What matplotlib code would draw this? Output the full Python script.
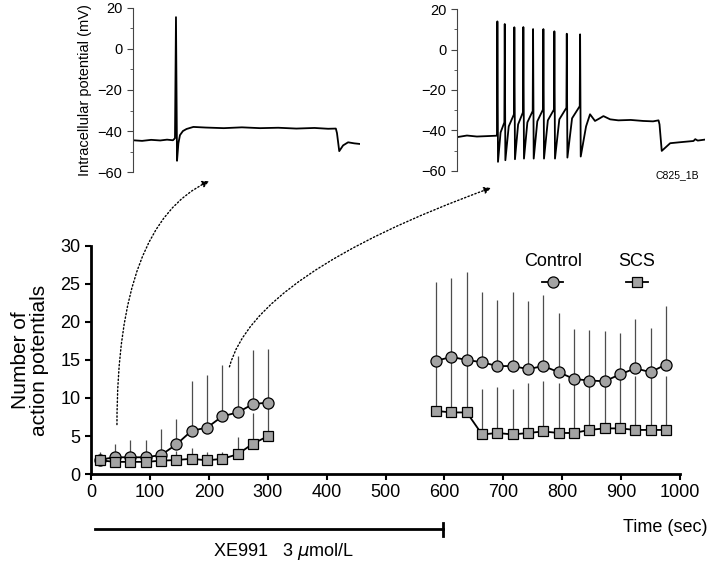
import matplotlib.pyplot as plt
from matplotlib.transforms import blended_transform_factory

plt.rcParams['font.family'] = ['Liberation Sans', 'DejaVu Sans']

# main plot data (sec, number of APs), error bars are upper only
time_a = [15, 41, 67, 93, 119, 145, 171, 197, 223, 249, 275, 301]
control_a = [1.9, 2.2, 2.2, 2.2, 2.5, 3.9, 5.7, 6.1, 7.6, 8.1, 9.2, 9.4]
control_a_err = [1.0, 1.8, 2.3, 2.3, 3.4, 3.3, 6.6, 6.9, 6.8, 7.4, 7.1, 7.1]
scs_a = [1.8, 1.6, 1.6, 1.6, 1.75, 1.85, 2.0, 1.8, 2.0, 2.6, 4.0, 5.0]
scs_a_err = [1.0, 1.0, 1.0, 1.0, 1.05, 1.15, 1.4, 1.1, 0.9, 2.3, 4.0, 4.0]

time_b = [586, 612, 638, 664, 690, 716, 742, 768, 794, 820, 846, 872, 898, 924, 950, 976]
control_b = [14.9, 15.4, 15.0, 14.7, 14.2, 14.2, 13.8, 14.2, 13.4, 12.5, 12.3, 12.2, 13.1, 13.9, 13.4, 14.4]
control_b_err = [10.4, 10.4, 11.6, 9.2, 8.7, 9.7, 9.0, 9.3, 7.8, 6.6, 6.6, 6.6, 5.5, 6.5, 5.8, 7.7]
scs_b = [8.3, 8.1, 8.1, 5.2, 5.4, 5.2, 5.4, 5.6, 5.4, 5.4, 5.8, 6.0, 6.0, 5.8, 5.8, 5.8]
scs_b_err = [7.2, 7.4, 7.4, 6.0, 6.0, 6.0, 6.6, 6.6, 6.6, 7.1, 6.9, 6.7, 6.9, 7.1, 7.1, 7.1]

xticks = [0, 100, 200, 300, 400, 500, 600, 700, 800, 900, 1000]
yticks = [0, 5, 10, 15, 20, 25, 30]

# inset traces (arbitrary time units 0-1000, mV)
left_t = [0, 40, 80, 120, 150, 176, 185, 189.4, 194, 200, 207, 220, 236, 266, 320, 400,
          480, 560, 640, 720, 800, 860, 894, 899, 909, 926, 948, 975, 1000]
left_v = [-44.5, -44.8, -44.3, -44.6, -44.2, -44.5, -43.5, 15.5, -54.5, -46, -42, -40,
          -39, -38, -38.3, -38.6, -38.2, -38.6, -38.4, -38.8, -38.5, -38.9, -38.8, -41,
          -49.8, -47, -45.5, -46, -46.3]

spike_t = [162.6, 192.3, 231, 267.3, 306.5, 348, 392.3, 442.3, 496]
spike_peak = [13.9, 12.6, 11.0, 11.1, 10.1, 10.1, 9.0, 7.8, 7.5]
spike_trough = [-55.5, -54.7, -54.2, -53.9, -53.9, -53.9, -53.9, -53.4, -52.9]
spike_pre = [-42.5, -36, -32, -31, -30.4, -29.6, -29.6, -28.8, -28]
ramp_mid = [-41, -38, -37, -36, -35.5, -35, -34.5, -34]

right_pre_t = [0, 40, 80, 120, 158]
right_pre_v = [-43.3, -42.5, -43, -42.8, -42.6]
right_post_t = [520, 536, 556, 575, 590, 617, 650, 700, 750, 790, 812, 816, 825, 859,
                900, 953, 960, 970, 1000]
right_post_v = [-38, -32, -35.3, -34, -32.9, -34.5, -35, -34.8, -35.3, -35.5, -35,
                -37, -50.1, -46.3, -45.8, -45.2, -44.3, -45, -44.5]

right_t = list(right_pre_t)
right_v = list(right_pre_v)
for i in range(len(spike_t)):
    right_t += [spike_t[i] - 1.5, spike_t[i], spike_t[i] + 2.5]
    right_v += [spike_pre[i], spike_peak[i], spike_trough[i]]
    if i < len(ramp_mid):
        right_t.append(spike_t[i] + 2.5 + 0.35 * (spike_t[i + 1] - spike_t[i]))
        right_v.append(ramp_mid[i])
right_t += right_post_t
right_v += right_post_v

fig = plt.figure(figsize=(7.09, 5.66), dpi=100)
ax = fig.add_axes([0.1284, 0.1625, 0.8307, 0.403])

for t, y, e in [(time_a, control_a, control_a_err), (time_b, control_b, control_b_err),
                (time_a, scs_a, scs_a_err), (time_b, scs_b, scs_b_err)]:
    ax.errorbar(t, y, yerr=[[0] * len(e), e], fmt='none', ecolor='#4d4d4d',
                elinewidth=0.9, capsize=0, zorder=1)

for t, y in [(time_a, control_a), (time_b, control_b)]:
    ax.plot(t, y, '-o', color='black', lw=1.3, mfc='#a3a3a3', mec='black',
            ms=8, mew=0.9, zorder=3)
for t, y in [(time_a, scs_a), (time_b, scs_b)]:
    ax.plot(t, y, '-s', color='black', lw=1.3, mfc='#a3a3a3', mec='black',
            ms=7.5, mew=0.9, zorder=4)

ax.set_xlim(0, 1000)
ax.set_ylim(0, 30)
ax.set_xticks(xticks)
ax.set_yticks(yticks)
ax.tick_params(labelsize=13, direction='out', length=4, width=1.5)
for s in ['top', 'right']:
    ax.spines[s].set_visible(False)
for s in ['left', 'bottom']:
    ax.spines[s].set_linewidth(2)
ax.set_ylabel('Number of\naction potentials', fontsize=15, labelpad=8, linespacing=1.0)

# legend drawn by hand, label above marker
for lx, lab, mk, ms in [(0.784, 'Control', 'o', 8), (0.927, 'SCS', 's', 7.5)]:
    ax.text(lx, 0.93, lab, transform=ax.transAxes, ha='center', va='center', fontsize=13)
    ax.plot([lx - 0.018, lx + 0.018], [0.842, 0.842], '-', color='black', lw=1.3,
            transform=ax.transAxes, clip_on=False)
    ax.plot([lx], [0.842], mk, mfc='#a3a3a3', mec='black', ms=ms, mew=0.9,
            transform=ax.transAxes, clip_on=False)

# drug application bar
trans = blended_transform_factory(ax.transData, fig.transFigure)
ax.plot([7, 598], [0.0654, 0.0654], color='black', lw=2, transform=trans, clip_on=False)
ax.plot([598, 598], [0.053, 0.076], color='black', lw=2, transform=trans, clip_on=False)
ax.text(326, 0.026, 'XE991   3 $\\mu$mol/L', transform=trans, ha='center', va='center',
        fontsize=13)
fig.text(0.998, 0.068, 'Time (sec)', ha='right', va='center', fontsize=13)

# insets
ins1 = fig.add_axes([0.1876, 0.696, 0.32, 0.29])
ins2 = fig.add_axes([0.6446, 0.698, 0.35, 0.286])
for ins, t, v in [(ins1, left_t, left_v), (ins2, right_t, right_v)]:
    ins.plot(t, v, color='black', lw=1.3)
    ins.set_xlim(0, 1000)
    ins.set_ylim(-60, 20)
    ins.set_yticks([-60, -40, -20, 0, 20])
    ins.set_yticks([-50, -30, -10, 10], minor=True)
    ins.set_yticklabels(['\u221260', '\u221240', '\u221220', '0', '20'])
    ins.tick_params(axis='y', which='major', labelsize=10.5, length=4, color='#444444')
    ins.tick_params(axis='y', which='minor', length=2, color='#444444')
    ins.set_xticks([])
    for s in ['top', 'right', 'bottom']:
        ins.spines[s].set_visible(False)
    ins.spines['left'].set_color('#444444')
    ins.patch.set_alpha(0)
ins1.set_ylabel('Intracellular potential (mV)', fontsize=10.5, labelpad=4)
fig.text(0.955, 0.691, 'C825_1B', ha='center', va='center', fontsize=7.5)

# dotted arrows from the main plot to the traces
ax.annotate('', xy=(0.295, 0.680), xycoords='figure fraction', xytext=(44, 6.5),
            textcoords='data', annotation_clip=False,
            arrowprops=dict(arrowstyle='-|>', linestyle=':', lw=1, color='black',
                            connectionstyle='angle3,angleA=90,angleB=25',
                            shrinkA=0, shrinkB=0, mutation_scale=10))
ax.annotate('', xy=(0.6925, 0.668), xycoords='figure fraction', xytext=(235, 14.1),
            textcoords='data', annotation_clip=False,
            arrowprops=dict(arrowstyle='-|>', linestyle=':', lw=1, color='black',
                            connectionstyle='angle3,angleA=75,angleB=20',
                            shrinkA=0, shrinkB=0, mutation_scale=10))

plt.savefig('out.png', dpi=100)
